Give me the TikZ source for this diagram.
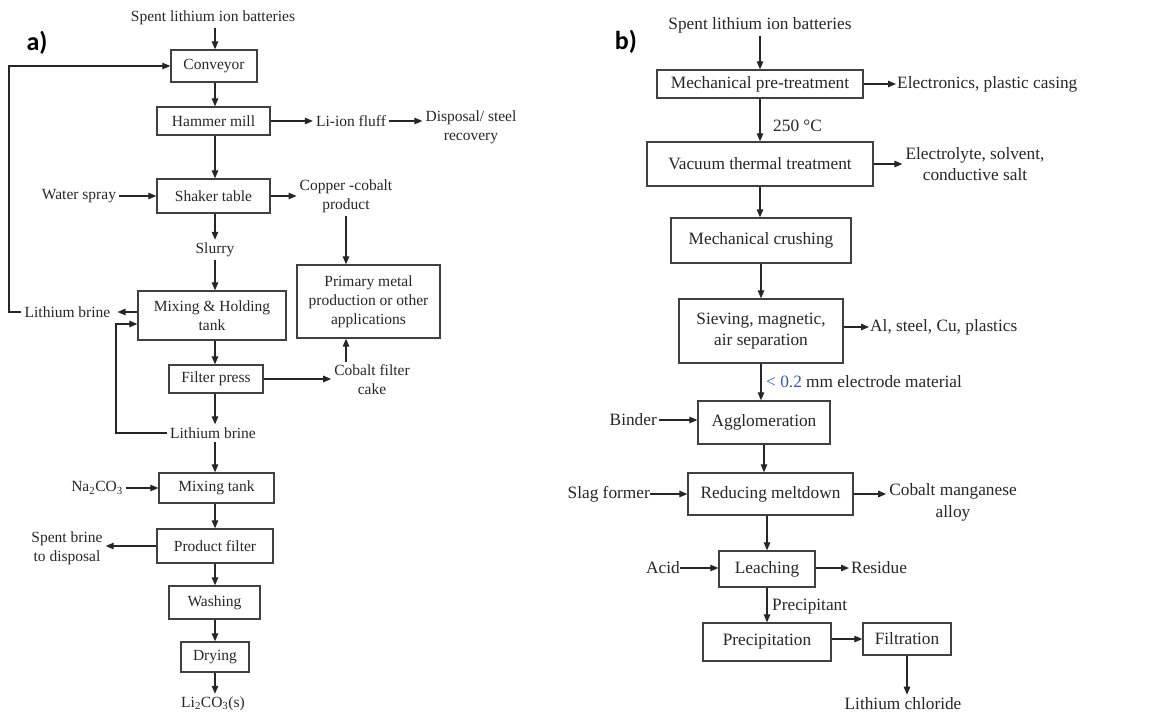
\documentclass[tikz,border=0pt]{standalone}
\usepackage{fontspec}
\setmainfont{Liberation Serif}
\newfontfamily\labfont{Carlito}
\usetikzlibrary{arrows.meta}
\definecolor{lblue}{RGB}{60,90,170}
\begin{document}
\begin{tikzpicture}[x=1pt,y=-1pt,
  arr/.style={draw=black!85, line width=1.25pt, -{Triangle[length=8pt,width=6.5pt]}},
  lbox/.style={draw=black!75, line width=1.3pt, inner sep=0pt, align=center, text=black!85, font=\fontsize{15.5}{19}\selectfont},
  ltxt/.style={inner sep=3pt, align=center, text=black!85, font=\fontsize{15.5}{19}\selectfont},
  rbox/.style={draw=black!75, line width=1.3pt, inner sep=0pt, align=center, text=black!85, font=\fontsize{17.3}{21.5}\selectfont},
  rtxt/.style={inner sep=3pt, align=center, text=black!85, font=\fontsize{17.3}{21.5}\selectfont},
  panel/.style={inner sep=0pt, text=black, font=\labfont\bfseries\fontsize{26}{30}\selectfont}
]
\useasboundingbox (0,0) rectangle (1155,715);

% ---------------- panel a ----------------
\node[panel] (pa) at (37,43) {a)};
\node[ltxt] (sb1) at (213,18) {Spent lithium ion batteries};
\node[lbox, minimum width=86pt, minimum height=32pt] (conv) at (214,66) {Conveyor};
\node[lbox, minimum width=113pt, minimum height=28pt] (hm) at (213.5,121) {Hammer mill};
\node[ltxt] (lif) at (351,121) {Li-ion fluff};
\node[ltxt] (disp) at (471,127) {Disposal/ steel\\recovery};
\node[ltxt] (ws) at (79,196) {Water spray};
\node[lbox, minimum width=113pt, minimum height=34pt] (st) at (213.5,196) {Shaker table};
\node[ltxt] (cc) at (346,196) {Copper -cobalt\\product};
\node[ltxt] (slurry) at (215,250) {Slurry};
\node[lbox, minimum width=148pt, minimum height=49pt] (mh) at (212,315.5) {Mixing \& Holding\\tank};
\node[ltxt] (lb1) at (67.5,312) {Lithium brine};
\node[lbox, minimum width=143pt, minimum height=73pt] (pm) at (368.5,301.5) {Primary metal\\production or other\\applications};
\node[lbox, minimum width=94pt, minimum height=28pt] (fp) at (216,379) {Filter press};
\node[ltxt] (cfc) at (372,380) {Cobalt filter\\cake};
\node[ltxt] (lb2) at (213,433) {Lithium brine};
\node[lbox, minimum width=115pt, minimum height=30pt] (mt) at (216.5,488) {Mixing tank};
\node[ltxt] (na) at (97,488) {Na\textsubscript{2}CO\textsubscript{3}};
\node[lbox, minimum width=116pt, minimum height=34pt] (pf) at (215,546) {Product filter};
\node[ltxt] (sbd) at (67,548) {Spent brine\\to disposal};
\node[lbox, minimum width=91pt, minimum height=33pt] (wa) at (214.5,602.5) {Washing};
\node[lbox, minimum width=68pt, minimum height=30pt] (dr) at (215,657) {Drying};
\node[ltxt] (li) at (213,704) {Li\textsubscript{2}CO\textsubscript{3}(s)};

\coordinate (c) at (215,0);
\coordinate (fb1) at (9,312);
\coordinate (fb2) at (116,433);

\draw[arr] (sb1.south -| c) -- (conv.north -| c);
\draw[arr] (conv.south -| c) -- (hm.north -| c);
\draw[arr] (hm.south -| c) -- (st.north -| c);
\draw[arr] (st.south -| c) -- (slurry.north -| c);
\draw[arr] (slurry.south -| c) -- (mh.north -| c);
\draw[arr] (mh.south -| c) -- (fp.north -| c);
\draw[arr] (fp.south -| c) -- (lb2.north -| c);
\draw[arr] (lb2.south -| c) -- (mt.north -| c);
\draw[arr] (mt.south -| c) -- (pf.north -| c);
\draw[arr] (pf.south -| c) -- (wa.north -| c);
\draw[arr] (wa.south -| c) -- (dr.north -| c);
\draw[arr] (dr.south -| c) -- (li.north -| c);

\draw[arr] (hm.east) -- (lif.west);
\draw[arr] (lif.east) -- (lif.east -| disp.west);
\draw[arr] (ws.east) -- (ws.east -| st.west);
\draw[arr] (st.east) -- (st.east -| cc.west);
\draw[arr] (cc.south) -- (cc.south |- pm.north);
\draw[arr, shorten >=4pt] ([yshift=3.5pt]mh.west) -- (lb1.east);
\draw[arr] (lb1.west) -- (fb1) |- (conv.west);
\draw[arr] (lb2.west) -- (fb2) |- ([yshift=-8.5pt]mh.west);
\draw[arr] (fp.east) -- (fp.east -| cfc.west);
\draw[arr] (cfc.north -| cc.south) -- (cc.south |- pm.south);
\draw[arr] (na.east) -- (na.east -| mt.west);
\draw[arr] (pf.west) -- (pf.west -| sbd.east);

% ---------------- panel b ----------------
\node[panel] (pb) at (626,42) {b)};
\node[rtxt] (sb2) at (760,25) {Spent lithium ion batteries};
\node[rbox, minimum width=206pt, minimum height=28pt] (mpt) at (760,84) {Mechanical pre-treatment};
\node[rtxt, anchor=west, inner sep=1pt] (ept) at (896,84) {Electronics, plastic casing};
\node[rtxt, anchor=west] (t250) at (770,126) {250 °C};
\node[rbox, minimum width=226pt, minimum height=44pt] (vtt) at (760,164) {Vacuum thermal treatment};
\node[rtxt] (elec) at (975,164) {Electrolyte, solvent,\\conductive salt};
\node[rbox, minimum width=180pt, minimum height=45pt] (mc) at (761,240.5) {Mechanical crushing};
\node[rbox, minimum width=164pt, minimum height=64pt] (sv) at (761,331) {Sieving, magnetic,\\air separation};
\node[rtxt, anchor=west, inner sep=1pt] (al) at (869,327) {Al, steel, Cu, plastics};
\node[rtxt, anchor=west, inner sep=1pt] (emat) at (765,382) {\textcolor{lblue}{< 0.2} mm electrode material};
\node[rbox, minimum width=132pt, minimum height=43pt] (agg) at (764,422.5) {Agglomeration};
\node[rtxt, anchor=east, inner sep=2pt] (binder) at (659,420) {Binder};
\node[rbox, minimum width=165pt, minimum height=42pt] (rm) at (770.5,494) {Reducing meltdown};
\node[rtxt, anchor=east, inner sep=0pt] (slag) at (650,494) {Slag former};
\node[rtxt] (cma) at (953,502.5) {Cobalt manganese\\alloy};
\node[rbox, minimum width=96pt, minimum height=36pt] (leach) at (767,569) {Leaching};
\node[rtxt, anchor=east, inner sep=0pt] (acid) at (680,568) {Acid};
\node[rtxt, anchor=west, inner sep=2pt] (res) at (849,568) {Residue};
\node[rtxt, anchor=west, inner sep=1pt] (prt) at (771,607) {Precipitant};
\node[rbox, minimum width=128pt, minimum height=38pt] (prec) at (767,642) {Precipitation};
\node[rbox, minimum width=88pt, minimum height=32pt] (filt) at (907,639) {Filtration};
\node[rtxt] (lic) at (903,704) {Lithium chloride};

\draw[arr] (sb2.south) -- (sb2.south |- mpt.north);
\draw[arr] (mpt.east) -- (ept.west);
\draw[arr] (mpt.south) -- (mpt.south |- vtt.north);
\draw[arr] (vtt.east) -- (vtt.east -| elec.west);
\draw[arr] (vtt.south) -- (vtt.south |- mc.north);
\draw[arr] (mc.south) -- (mc.south |- sv.north);
\draw[arr] (sv.south) -- (sv.south |- agg.north);
\draw[arr] (sv.east |- al.west) -- (al.west);
\draw[arr] (binder.east) -- (binder.east -| agg.west);
\draw[arr] (agg.south) -- (agg.south |- rm.north);
\draw[arr] (slag.east) -- (slag.east -| rm.west);
\draw[arr] (rm.east) -- (rm.east -| cma.west);
\draw[arr] (rm.south -| leach.north) -- (leach.north);
\draw[arr] (acid.east) -- (acid.east -| leach.west);
\draw[arr] (leach.east |- res.west) -- (res.west);
\draw[arr] (leach.south) -- (leach.south |- prec.north);
\draw[arr] (prec.east |- filt.west) -- (filt.west);
\draw[arr] (filt.south) -- (filt.south |- lic.north);
\end{tikzpicture}
\end{document}
